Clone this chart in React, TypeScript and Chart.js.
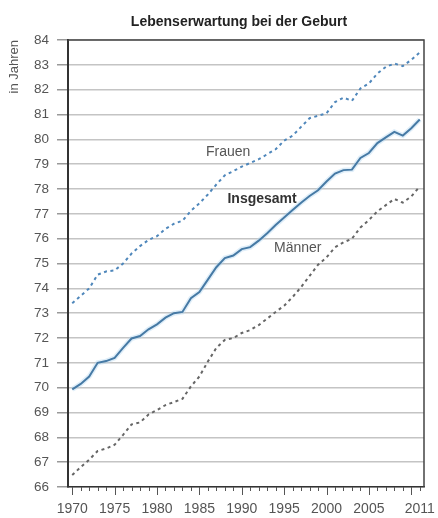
import React, { useEffect, useRef } from 'react';
import { Chart, registerables } from 'chart.js';

Chart.register(...registerables);

const FONT = '"Liberation Sans", Arial, Helvetica, sans-serif';

const TITLE = 'Lebenserwartung bei der Geburt';
const Y_TITLE = 'in Jahren';

const years = [
  1970, 1971, 1972, 1973, 1974, 1975, 1976, 1977, 1978, 1979,
  1980, 1981, 1982, 1983, 1984, 1985, 1986, 1987, 1988, 1989,
  1990, 1991, 1992, 1993, 1994, 1995, 1996, 1997, 1998, 1999,
  2000, 2001, 2002, 2003, 2004, 2005, 2006, 2007, 2008, 2009,
  2010, 2011,
];

const insgesamt = [
  69.93, 70.15, 70.45, 71.0, 71.07, 71.2, 71.6, 71.98, 72.08, 72.35,
  72.55, 72.82, 73.0, 73.05, 73.6, 73.85, 74.35, 74.85, 75.22, 75.32,
  75.58, 75.66, 75.92, 76.22, 76.55, 76.85, 77.15, 77.45, 77.72, 77.95,
  78.3, 78.62, 78.76, 78.78, 79.25, 79.45, 79.85, 80.08, 80.3, 80.15,
  80.45, 80.8,
];

const frauen = [
  73.4, 73.7, 74.0, 74.55, 74.68, 74.72, 75.0, 75.4, 75.7, 75.95,
  76.1, 76.4, 76.6, 76.72, 77.12, 77.42, 77.78, 78.18, 78.55, 78.72,
  78.9, 79.05, 79.2, 79.4, 79.6, 79.95, 80.15, 80.5, 80.85, 80.95,
  81.05, 81.5, 81.68, 81.55, 82.05, 82.25, 82.65, 82.92, 83.05, 82.95,
  83.2, 83.5,
];

const maenner = [
  66.48, 66.8, 67.1, 67.45, 67.55, 67.7, 68.1, 68.52, 68.6, 68.92,
  69.1, 69.3, 69.42, 69.55, 70.05, 70.45, 71.05, 71.6, 71.92, 72.0,
  72.2, 72.32, 72.52, 72.78, 73.05, 73.3, 73.65, 74.05, 74.5, 74.95,
  75.25, 75.65, 75.85, 76.0, 76.45, 76.75, 77.1, 77.35, 77.6, 77.45,
  77.7, 78.1,
];

const labeledYears = [1970, 1975, 1980, 1985, 1990, 1995, 2000, 2005, 2011];
const majorTickYears = [1970, 1975, 1980, 1985, 1990, 1995, 2000, 2005, 2010];
const yTicks = [66, 67, 68, 69, 70, 71, 72, 73, 74, 75, 76, 77, 78, 79, 80, 81, 82, 83, 84];

const seriesNames = ['Frauen', 'Insgesamt', 'Männer'];
const labelYears = [1988.4, 1992.4, 1996.6];
const labelValues = [79.5, 77.6, 75.63];
const labelBold = [false, true, false];

function toPoints(values: number[]) {
  return years.map((yr, i) => ({ x: yr, y: values[i] }));
}

export default function App() {
  const ref = useRef<HTMLCanvasElement>(null);

  useEffect(() => {
    const canvas = ref.current;
    if (!canvas) return;

    const overlay = {
      id: 'overlay',
      afterDatasetsDraw(chart: any) {
        const { ctx, chartArea: a, scales } = chart;
        const xs = scales.x;
        const ys = scales.y;
        ctx.save();
        // frame top and right
        ctx.strokeStyle = '#444';
        ctx.lineWidth = 1.5;
        ctx.beginPath();
        ctx.moveTo(a.left, a.top);
        ctx.lineTo(a.right, a.top);
        ctx.lineTo(a.right, a.bottom);
        ctx.stroke();
        // x tick marks
        ctx.strokeStyle = '#555';
        ctx.lineWidth = 1;
        years.forEach((yr) => {
          const px = Math.round(xs.getPixelForValue(yr)) + 0.5;
          const len = majorTickYears.includes(yr) ? 8 : 4;
          ctx.beginPath();
          ctx.moveTo(px, a.bottom);
          ctx.lineTo(px, a.bottom + len);
          ctx.stroke();
        });
        // series labels
        ctx.textAlign = 'center';
        ctx.textBaseline = 'middle';
        seriesNames.forEach((name, i) => {
          ctx.font = `${labelBold[i] ? 'bold ' : ''}14px ${FONT}`;
          ctx.fillStyle = labelBold[i] ? '#333' : '#555';
          ctx.fillText(name, xs.getPixelForValue(labelYears[i]), ys.getPixelForValue(labelValues[i]));
        });
        // title
        ctx.font = `bold 14px ${FONT}`;
        ctx.fillStyle = '#222';
        ctx.fillText(TITLE, (a.left + a.right) / 2 - 7, 22);
        ctx.restore();
      },
    };

    const chart = new Chart(canvas, {
      type: 'line',
      data: {
        datasets: [
          {
            label: 'Insgesamt-glow',
            data: toPoints(insgesamt),
            borderColor: 'rgba(175, 212, 240, 0.4)',
            borderWidth: 5,
            pointRadius: 0,
            tension: 0,
            order: 10,
          },
          {
            label: 'Insgesamt',
            data: toPoints(insgesamt),
            borderColor: '#467aa5',
            borderWidth: 2,
            pointRadius: 0,
            tension: 0,
            order: 0,
          },
          {
            label: 'Frauen',
            data: toPoints(frauen),
            borderColor: '#4f87bb',
            borderWidth: 2,
            borderDash: [3, 3.5],
            pointRadius: 0,
            tension: 0,
            order: 1,
          },
          {
            label: 'Männer',
            data: toPoints(maenner),
            borderColor: '#666',
            borderWidth: 2,
            borderDash: [3, 3.5],
            pointRadius: 0,
            tension: 0,
            order: 1,
          },
        ],
      },
      options: {
        responsive: false,
        animation: false,
        events: [],
        layout: { padding: { top: 40, right: 14, left: 0, bottom: 0 } },
        plugins: {
          legend: { display: false },
          tooltip: { enabled: false },
          title: { display: false },
        },
        scales: {
          x: {
            type: 'linear',
            min: 1969.5,
            max: 2011.5,
            afterFit: (s: any) => {
              s.height = 31;
              s.paddingLeft = 0;
              s.paddingRight = 0;
            },
            afterBuildTicks: (s: any) => {
              s.ticks = years.map((v) => ({ value: v }));
            },
            grid: { display: true, drawOnChartArea: false, drawTicks: false },
            border: { display: true, color: '#333', width: 1.5 },
            ticks: {
              autoSkip: false,
              maxRotation: 0,
              padding: 14,
              color: '#555',
              font: { family: FONT, size: 14 },
              callback: (v: any) => (labeledYears.includes(Number(v)) ? String(v) : ''),
            },
          },
          y: {
            min: 66,
            max: 84,
            afterFit: (s: any) => { s.width = 68; },
            afterBuildTicks: (s: any) => {
              s.ticks = yTicks.map((v) => ({ value: v }));
            },
            grid: { color: '#c4c4c4', lineWidth: 1.5, tickLength: 11, tickColor: '#999' },
            border: { display: true, color: '#333', width: 2 },
            ticks: {
              padding: 8,
              color: '#555',
              font: { family: FONT, size: 13.5 },
            },
            title: {
              display: true,
              text: Y_TITLE,
              align: 'end',
              color: '#555',
              font: { family: FONT, size: 13 },
              padding: { top: 7, bottom: 0 },
            },
          },
        },
      },
      plugins: [overlay],
    } as any);

    return () => chart.destroy();
  }, []);

  return (
    <div style={{ position: 'fixed', left: 0, top: 0, width: 438, height: 518, background: '#fff' }}>
      <canvas ref={ref} width={438} height={518} style={{ display: 'block' }} />
    </div>
  );
}
